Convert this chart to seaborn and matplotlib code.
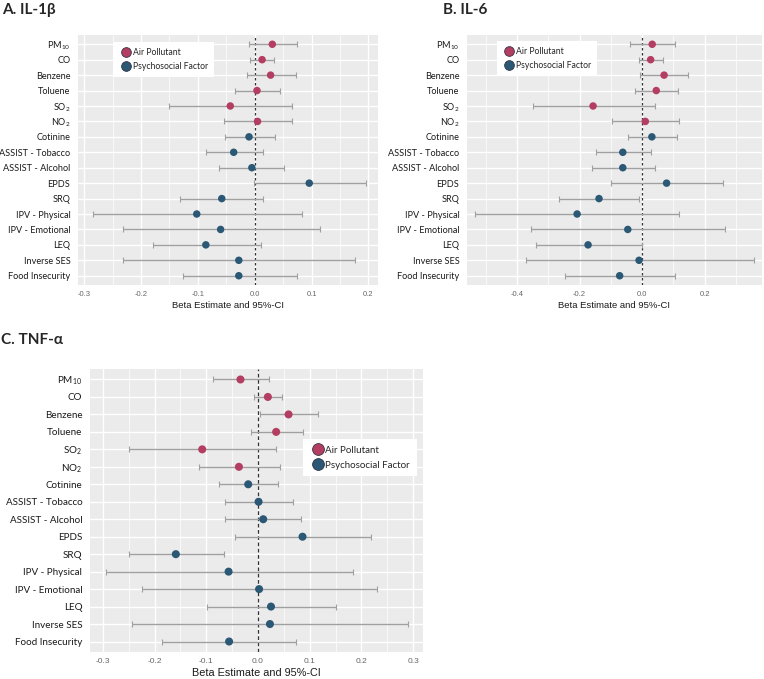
import numpy as np
import pandas as pd
import seaborn as sns
import matplotlib.pyplot as plt
from matplotlib.lines import Line2D

# ---- data ----
variables = ["PM$_{10}$", "CO", "Benzene", "Toluene", "SO$_{2}$", "NO$_{2}$",
             "Cotinine", "ASSIST - Tobacco", "ASSIST - Alcohol", "EPDS", "SRQ",
             "IPV - Physical", "IPV - Emotional", "LEQ", "Inverse SES", "Food Insecurity"]
groups = ["Air Pollutant"] * 6 + ["Psychosocial Factor"] * 10

il1b_est = [0.031, 0.013, 0.028, 0.004, -0.043, 0.005, -0.010, -0.037, -0.005, 0.096,
            -0.058, -0.102, -0.060, -0.086, -0.028, -0.028]
il1b_lo = [-0.010, -0.008, -0.014, -0.034, -0.150, -0.054, -0.052, -0.085, -0.062, -0.002,
           -0.131, -0.284, -0.232, -0.179, -0.231, -0.126]
il1b_hi = [0.074, 0.034, 0.073, 0.044, 0.066, 0.066, 0.035, 0.014, 0.051, 0.195,
           0.015, 0.083, 0.115, 0.011, 0.177, 0.074]

il6_est = [0.032, 0.027, 0.070, 0.045, -0.157, 0.010, 0.031, -0.062, -0.062, 0.078,
           -0.138, -0.208, -0.046, -0.173, -0.010, -0.072]
il6_lo = [-0.039, -0.009, -0.006, -0.023, -0.349, -0.096, -0.045, -0.149, -0.159, -0.099,
          -0.265, -0.534, -0.354, -0.340, -0.371, -0.248]
il6_hi = [0.106, 0.066, 0.147, 0.116, 0.040, 0.119, 0.110, 0.029, 0.041, 0.257,
          -0.010, 0.119, 0.264, -0.002, 0.357, 0.106]

tnf_est = [-0.034, 0.019, 0.059, 0.035, -0.108, -0.037, -0.019, 0.001, 0.010, 0.086,
           -0.159, -0.057, 0.002, 0.025, 0.023, -0.056]
tnf_lo = [-0.087, -0.007, 0.004, -0.013, -0.249, -0.114, -0.075, -0.063, -0.063, -0.044,
          -0.250, -0.295, -0.224, -0.099, -0.244, -0.185]
tnf_hi = [0.021, 0.047, 0.116, 0.087, 0.035, 0.043, 0.039, 0.068, 0.084, 0.218,
          -0.066, 0.183, 0.230, 0.150, 0.290, 0.074]

palette = {"Air Pollutant": "#B43D62", "Psychosocial Factor": "#2B5875"}

sns.set_style("darkgrid", {"axes.facecolor": "#EBEBEB", "grid.color": "white"})
plt.rcParams["mathtext.fontset"] = "custom"
plt.rcParams["mathtext.rm"] = "Lato"
plt.rcParams["mathtext.it"] = "Lato"

W, H = 764, 679


def px_axes(fig, left, top, right, bottom):
    return fig.add_axes([left / W, 1 - bottom / H, (right - left) / W, (bottom - top) / H])


def forest(ax, est, lo, hi, xlim, major, minor, label_size, tick_size, xlab_size,
           msize, dash, legend_pos, leg_size, leg_marker):
    df = pd.DataFrame({"var": variables, "group": groups, "est": est, "lo": lo, "hi": hi})
    df["pos"] = np.arange(len(df))

    ax.set_axisbelow(True)
    ax.set_xticks(minor, minor=True)
    ax.grid(True, which="major", color="white", lw=1.0)
    ax.grid(True, which="minor", axis="x", color="white", lw=0.5)
    ax.axvline(0, color="#333333", lw=0.9, ls=dash, zorder=1)

    ax.errorbar(df["est"], df["pos"], xerr=[df["est"] - df["lo"], df["hi"] - df["est"]],
                fmt="none", ecolor="#A0A0A0", elinewidth=1.0, capsize=2, capthick=0.8, zorder=2)
    sns.scatterplot(data=df, x="est", y="pos", hue="group", palette=palette, s=msize ** 2,
                    edgecolor="none", legend=False, ax=ax, zorder=3)

    ax.set_xlim(*xlim)
    ax.set_ylim(len(df) - 0.4, -0.6)
    ax.set_xticks(major)
    ax.set_xticklabels([f"{t:.1f}" for t in major], fontsize=tick_size, color="#666666",
                       family="Liberation Sans")
    ax.set_yticks(df["pos"])
    ax.set_yticklabels(df["var"], fontsize=label_size, family="Lato", color="#1a1a1a")
    ax.tick_params(axis="both", which="major", length=2.5, color="#999999", pad=2)
    ax.tick_params(axis="y", pad=3)
    ax.tick_params(axis="x", which="minor", length=0)
    ax.set_ylabel("")
    ax.set_xlabel("Beta Estimate and 95%-CI", fontsize=xlab_size, family="Liberation Sans",
                  color="#1a1a1a", labelpad=2)
    for s in ax.spines.values():
        s.set_visible(False)

    handles = [Line2D([], [], marker="o", ls="none", markersize=leg_marker,
                      markerfacecolor=palette[g], markeredgecolor="#333344",
                      markeredgewidth=0.6, label=g) for g in palette]
    leg = ax.legend(handles=handles, loc="upper left", bbox_to_anchor=legend_pos,
                    frameon=True, fancybox=False, framealpha=1, edgecolor="white",
                    facecolor="white", prop={"family": "Lato", "size": leg_size},
                    handletextpad=0.0, handlelength=1.6, borderpad=0.7, labelspacing=0.6,
                    borderaxespad=0)
    leg.get_frame().set_linewidth(0)


fig = plt.figure(figsize=(W / 100, H / 100), dpi=100)

axA = px_axes(fig, 78, 35, 378, 285)
forest(axA, il1b_est, il1b_lo, il1b_hi, (-0.311, 0.217),
       [-0.3, -0.2, -0.1, 0.0, 0.1, 0.2], [-0.25, -0.15, -0.05, 0.05, 0.15],
       6.6, 5.5, 6.8, 5.4, (0, (2, 2)), (0.117, 0.972), 6.2, 7)

axB = px_axes(fig, 467, 35, 762, 285)
forest(axB, il6_est, il6_lo, il6_hi, (-0.56, 0.383),
       [-0.4, -0.2, 0.0, 0.2], [-0.5, -0.3, -0.1, 0.1, 0.3],
       6.6, 5.5, 6.8, 5.4, (0, (2, 2)), (0.10, 0.976), 6.2, 7)

axC = px_axes(fig, 90, 369, 423, 652)
forest(axC, tnf_est, tnf_lo, tnf_hi, (-0.325, 0.319),
       [-0.3, -0.2, -0.1, 0.0, 0.1, 0.2, 0.3], [-0.25, -0.15, -0.05, 0.05, 0.15, 0.25],
       7.1, 6, 7.8, 5.8, (0, (3, 2)), (0.64, 0.753), 7, 8.5)

fig.text(2 / W, 1 - 10 / H, "A. IL-1β", fontsize=11, fontweight="bold", family="Lato",
         va="center", ha="left")
fig.text(443 / W, 1 - 10 / H, "B. IL-6", fontsize=11, fontweight="bold", family="Lato",
         va="center", ha="left")
fig.text(1 / W, 1 - 340 / H, "C. TNF-α", fontsize=11, fontweight="bold", family="Lato",
         va="center", ha="left")

fig.savefig("out.png", dpi=100)
